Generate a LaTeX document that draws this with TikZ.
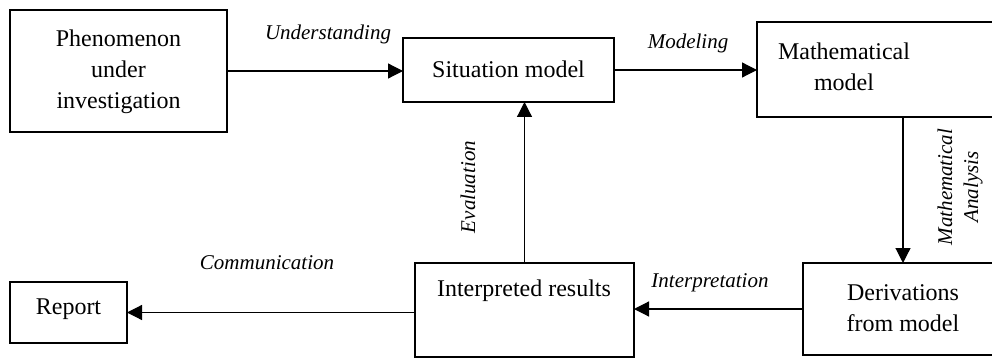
\documentclass[tikz,border=0pt]{standalone}
\usepackage{fontspec}
\setmainfont{Liberation Serif}
\usetikzlibrary{arrows.meta}
\begin{document}
\begin{tikzpicture}[x=1pt,y=-1pt,
  box/.style={draw, line width=1.6pt, inner sep=0pt, outer sep=0pt},
  txt/.style={align=center, inner sep=0pt, font=\fontsize{24}{31}\selectfont},
  lbl/.style={align=center, inner sep=0pt, font=\fontsize{21}{26}\selectfont\itshape},
  conn/.style={line width=1.2pt, -{Triangle[length=15pt,width=15pt]}}]
\useasboundingbox (0,0) rectangle (992,358);
\clip (0,0) rectangle (992,358);
% boxes
\node[box, minimum width=217pt, minimum height=122pt] (ph) at (118.5,71) {};
\node[box, minimum width=211pt, minimum height=64pt] (sm) at (508.5,70) {};
\node[box, minimum width=253pt, minimum height=95pt] (mm) at (883.5,69.5) {};
\node[box, minimum width=207pt, minimum height=92pt] (der) at (906.5,309) {};
\node[box, minimum width=219pt, minimum height=94pt] (ir) at (524.5,310) {};
\node[box, minimum width=117pt, minimum height=61pt] (rep) at (68.5,312.5) {};
% texts
\node[txt] (phT) at (118.5,71.5) {Phenomenon\\under\\investigation};
\node[txt] (smT) at (508.5,69) {Situation model};
\node[txt] (mmT) at (844,67) {Mathematical\\model};
\node[txt] (derT) at (903,308) {Derivations\\from model};
\node[txt] (irT) at (524,291) {Interpreted results};
\node[txt] (repT) at (68.5,309) {Report};
% labels
\node[lbl] (l1) at (328,34) {Understanding};
\node[lbl] (l2) at (688,43) {Modeling};
\node[lbl, rotate=90] (l3) at (468,187) {Evaluation};
\node[lbl, rotate=90] (l4) at (960,187) {Mathematical\\Analysis};
\node[lbl] (l5) at (710,283) {Interpretation};
\node[lbl] (l6) at (267,263) {Communication};
% connectors
\draw[conn] (ph.east) -- (ph.east -| sm.west);
\draw[conn] (sm.east) -- (sm.east -| mm.west);
\draw[conn] (derT.center |- mm.south) -- (derT.center |- der.north);
\draw[conn] (der.west) -- (der.west -| ir.east);
\draw[conn] (ir.north) -- (ir.north |- sm.south);
\draw[conn] (ir.west |- rep.east) -- (rep.east);
\end{tikzpicture}
\end{document}
